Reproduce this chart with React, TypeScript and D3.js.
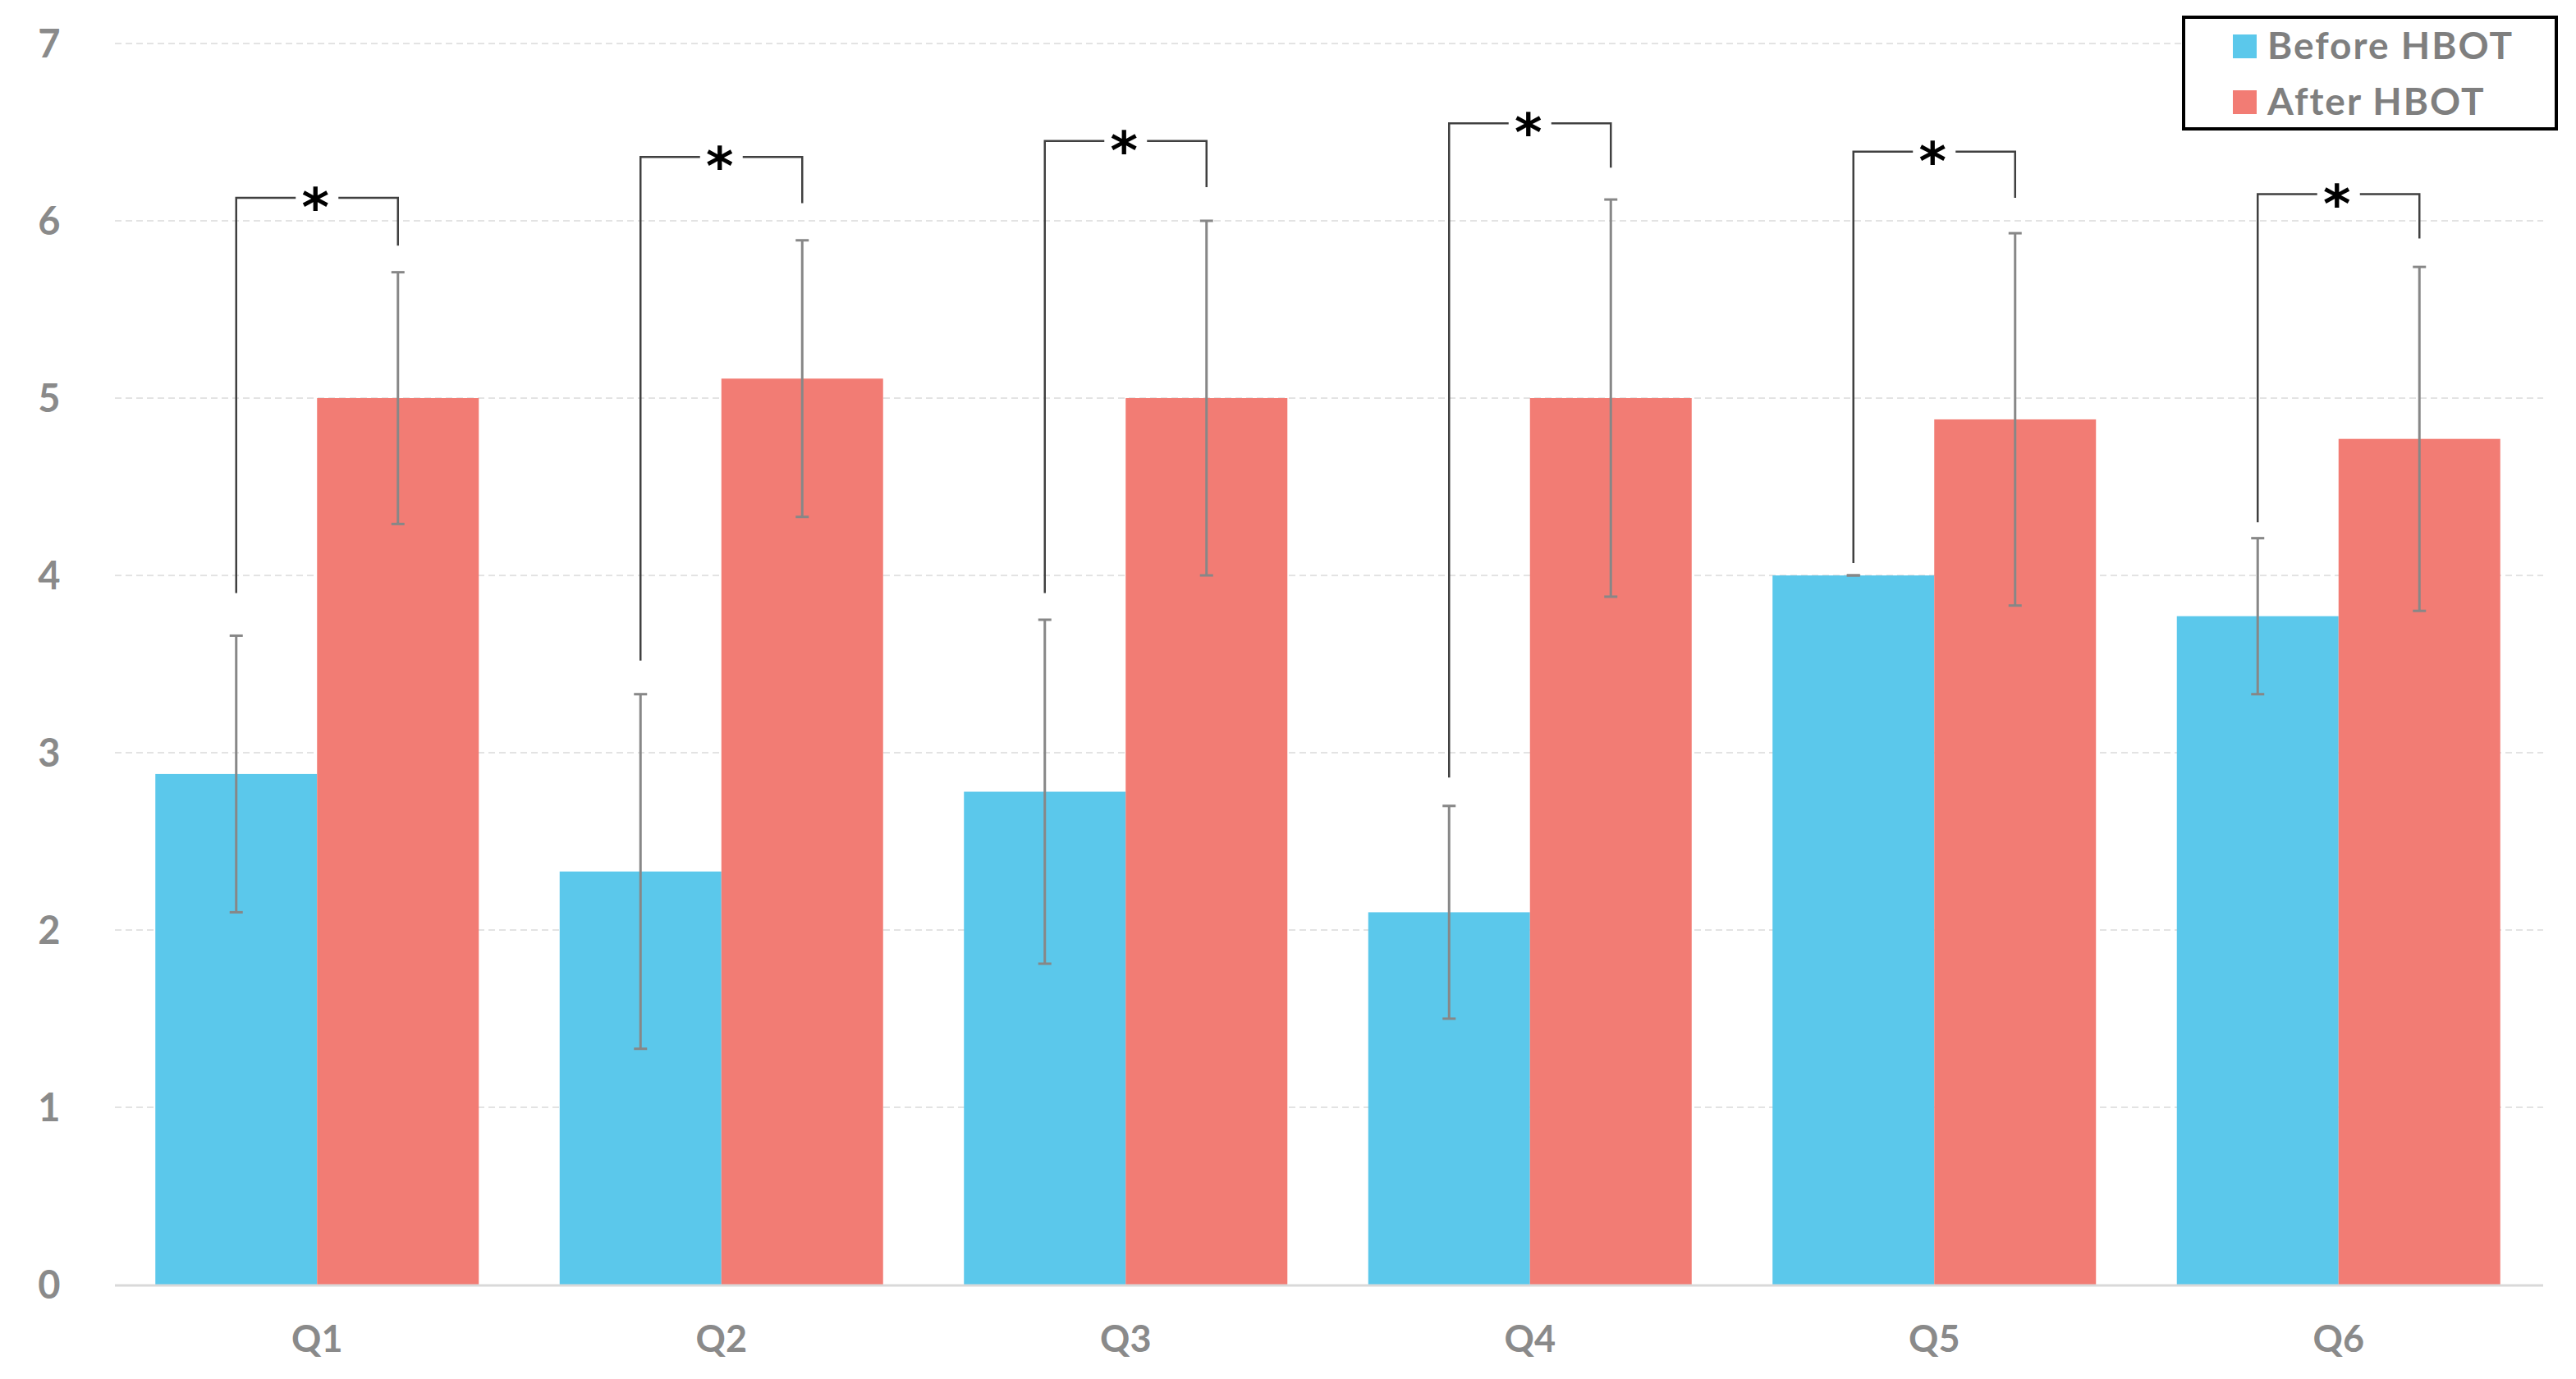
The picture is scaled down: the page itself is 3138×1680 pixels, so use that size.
import React from "react";
import * as d3 from "d3";

const categories = ["Q1", "Q2", "Q3", "Q4", "Q5", "Q6"];
const seriesNames = ["Before HBOT", "After HBOT"];
const beforeMeans = [2.88, 2.33, 2.78, 2.1, 4.0, 3.77];
const beforeErr = [0.78, 1.0, 0.97, 0.6, 0.0, 0.44];
const afterMeans = [5.0, 5.11, 5.0, 5.0, 4.88, 4.77];
const afterErr = [0.71, 0.78, 1.0, 1.12, 1.05, 0.97];
// significance brackets (data units)
const bracketTop = [6.13, 6.36, 6.45, 6.55, 6.39, 6.15];
const bracketLeftEnd = [3.9, 3.52, 3.9, 2.86, 4.07, 4.3];
const bracketRightEnd = [5.86, 6.1, 6.19, 6.3, 6.13, 5.9];
const yTicks = [0, 1, 2, 3, 4, 5, 6, 7];

const W = 3138;
const H = 1680;
const colors = ["#5bc8eb", "#f27c74"];
const FONT = "Lato, 'Open Sans', sans-serif";

export default function App() {
  const x0 = d3
    .scaleBand<string>()
    .domain(categories)
    .range([140, 3095])
    .paddingInner(0.2)
    .paddingOuter(0.1);
  const x1 = d3
    .scaleBand<string>()
    .domain(seriesNames)
    .range([0, x0.bandwidth()])
    .padding(0);
  const y = d3.scaleLinear().domain([0, 7]).range([1565, 53]);

  const series = [
    { name: seriesNames[0], means: beforeMeans, errs: beforeErr },
    { name: seriesNames[1], means: afterMeans, errs: afterErr },
  ];

  const capW = 16;
  const gap = 26;

  return (
    <svg
      width={W}
      height={H}
      style={{ position: "absolute", left: 0, top: 0, background: "#fff" }}
    >
      {/* gridlines */}
      {yTicks
        .filter((t) => t > 0)
        .map((t) => (
          <line
            key={"g" + t}
            x1={140}
            x2={3098}
            y1={y(t)}
            y2={y(t)}
            stroke="#e3e3e3"
            strokeWidth={2}
            strokeDasharray="8 5"
          />
        ))}
      {/* y labels */}
      {yTicks.map((t) => (
        <text
          key={"yl" + t}
          x={60}
          y={y(t) + 17}
          textAnchor="middle"
          fontFamily={FONT}
          fontWeight={700}
          fontSize={47}
          fill="#8a8a8a"
        >
          {t}
        </text>
      ))}
      {/* bars */}
      {series.map((s, si) =>
        categories.map((c, i) => (
          <rect
            key={s.name + c}
            x={(x0(c) as number) + (x1(s.name) as number)}
            y={y(s.means[i])}
            width={x1.bandwidth()}
            height={y(0) - y(s.means[i])}
            fill={colors[si]}
          />
        ))
      )}
      {/* axis line */}
      <line x1={140} x2={3098} y1={y(0) + 1} y2={y(0) + 1} stroke="#d9d9d9" strokeWidth={3} />
      {/* error bars */}
      {series.map((s) =>
        categories.map((c, i) => {
          const cx = (x0(c) as number) + (x1(s.name) as number) + x1.bandwidth() / 2;
          const top = y(s.means[i] + s.errs[i]);
          const bot = y(s.means[i] - s.errs[i]);
          return (
            <g key={"e" + s.name + c} stroke="#878787" strokeWidth={3}>
              <line x1={cx} x2={cx} y1={top} y2={bot} />
              <line x1={cx - capW / 2} x2={cx + capW / 2} y1={top} y2={top} />
              <line x1={cx - capW / 2} x2={cx + capW / 2} y1={bot} y2={bot} />
            </g>
          );
        })
      )}
      {/* significance brackets */}
      {categories.map((c, i) => {
        const lx = (x0(c) as number) + (x1(seriesNames[0]) as number) + x1.bandwidth() / 2;
        const rx = (x0(c) as number) + (x1(seriesNames[1]) as number) + x1.bandwidth() / 2;
        const mx = (x0(c) as number) + x0.bandwidth() / 2;
        const ty = y(bracketTop[i]);
        return (
          <g key={"b" + c}>
            <path
              d={`M${lx},${y(bracketLeftEnd[i])}V${ty}H${mx - gap}`}
              fill="none"
              stroke="#404040"
              strokeWidth={2.5}
            />
            <path
              d={`M${mx + gap},${ty}H${rx}V${y(bracketRightEnd[i])}`}
              fill="none"
              stroke="#404040"
              strokeWidth={2.5}
            />
            <text
              x={mx - 2}
              y={ty + 34}
              textAnchor="middle"
              fontFamily="'DejaVu Sans', sans-serif"
              fontWeight={700}
              fontSize={64}
              fill="#000"
            >
              *
            </text>
          </g>
        );
      })}
      {/* legend */}
      <g>
        <rect x={2660} y={21} width={454} height={136} fill="#fff" stroke="#000" strokeWidth={4} />
        {seriesNames.map((n, i) => (
          <g key={"lg" + n}>
            <rect x={2720} y={42 + i * 68} width={29} height={29} fill={colors[i]} />
            <text
              x={2762}
              y={72 + i * 68}
              fontFamily={FONT}
              fontWeight={700}
              fontSize={46}
              letterSpacing={2}
              fill="#7f7f7f"
            >
              {n}
            </text>
          </g>
        ))}
      </g>
      {/* x labels */}
      {categories.map((c) => (
        <text
          key={"xl" + c}
          x={(x0(c) as number) + x0.bandwidth() / 2}
          y={1647}
          textAnchor="middle"
          fontFamily={FONT}
          fontWeight={700}
          fontSize={45}
          fill="#8a8a8a"
        >
          {c}
        </text>
      ))}
    </svg>
  );
}
